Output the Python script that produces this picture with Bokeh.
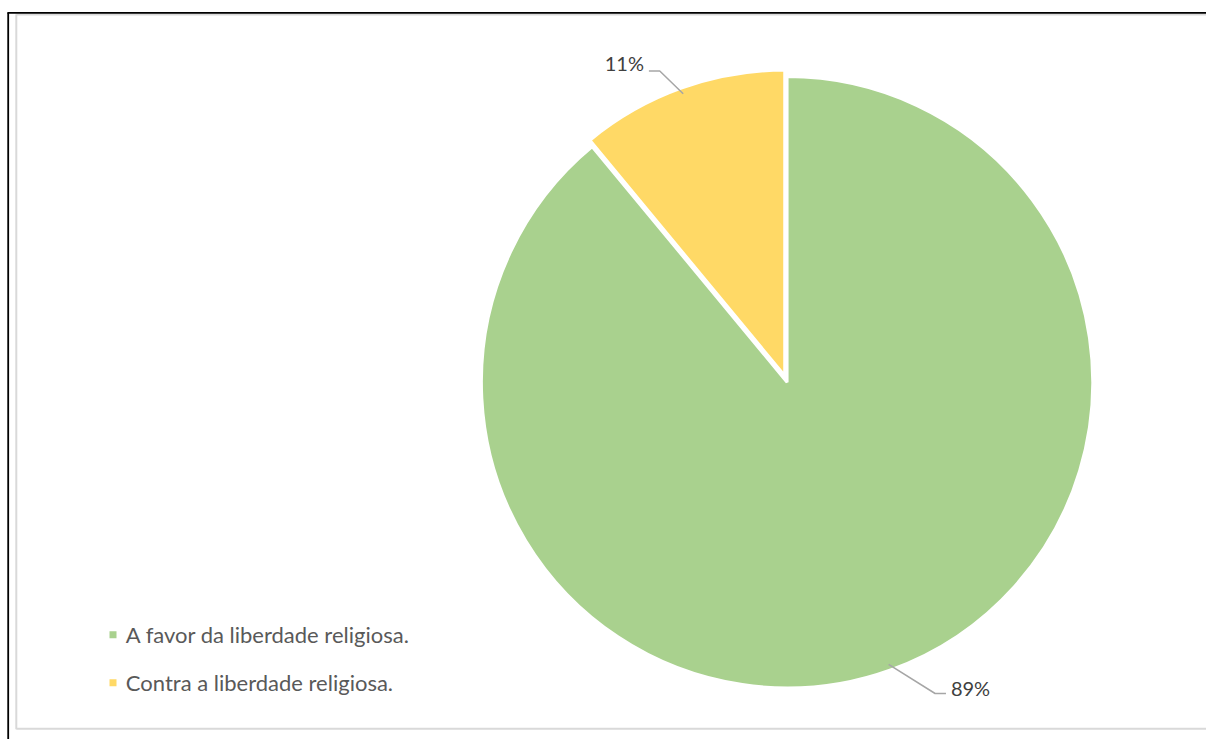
import math
from bokeh.plotting import figure
from bokeh.models import Range1d
from bokeh.core.properties import value
from bokeh.embed import file_html
from bokeh.resources import INLINE

# ---- data ----
categories = ["A favor da liberdade religiosa.", "Contra a liberdade religiosa."]
shares = [89, 11]
labels = ["89%", "11%"]
colors = ["#A9D18E", "#FFD966"]

# ---- layout (reference pixels mapped into the figure) ----
W, H = 1206, 739
KX, KY = W / 1222, H / 755
K = (KX + KY) / 2
def X(sx): return sx * KX
def Y(sy): return H - sy * KY

CX, CY, R = 797, 390, 311
EXPLODE = [0, 7]
FONT = "Lato"
TXT = "#595959"

p = figure(width=W, height=H, x_range=Range1d(0, W), y_range=Range1d(0, H),
           output_backend="svg", toolbar_location=None, min_border=0)
p.axis.visible = False
p.grid.visible = False
p.outline_line_color = None
p.background_fill_color = "white"
p.border_fill_color = "white"

# frames
p.line([X(16), X(16)], [Y(744.5), Y(14)], line_color="#D9D9D9", line_width=2)
p.line([X(16), X(1240)], [Y(14.3), Y(14.3)], line_color="#D9D9D9", line_width=2)
p.line([X(16), X(1240)], [Y(744), Y(744)], line_color="#D9D9D9", line_width=2)
p.line([X(7.8), X(7.8)], [Y(770), Y(12.5)], line_color="black", line_width=1.8)
p.line([X(7), X(1240)], [Y(12.6), Y(12.6)], line_color="black", line_width=1.8)

total = sum(shares)
start = math.pi / 2
label_pos = [((963, 702), "left"), ((652, 64), "right")]
elbows = [((947, 708), (958, 708)), ((668, 72), (657, 72))]
for i, v in enumerate(shares):
    span = 2 * math.pi * v / total
    end = start - span
    mid = (start + end) / 2
    dx = EXPLODE[i] * K * math.cos(mid)
    dy = EXPLODE[i] * K * math.sin(mid)
    cx, cy = X(CX) + dx, Y(CY) + dy
    p.wedge(x=[cx], y=[cy], radius=R * K, start_angle=[start], end_angle=[end],
            direction="clock", fill_color=colors[i], line_color="white", line_width=3)
    # leader line
    ax = cx + (R - 6) * K * math.cos(mid)
    ay = cy + (R - 6) * K * math.sin(mid)
    (e1x, e1y), (e2x, e2y) = elbows[i]
    p.line([ax, X(e1x), X(e2x)], [ay, Y(e1y), Y(e2y)], line_color="#A6A6A6", line_width=1.5)
    (lx, ly), al = label_pos[i]
    p.text(x=[X(lx)], y=[Y(ly)], text=[labels[i]], text_font=value(FONT),
           text_font_size="20px", text_color="#404040", text_align=al,
           text_baseline="middle")
    start = end

# legend
leg_y = [648, 697]
for i, c in enumerate(categories):
    p.scatter(x=[X(114)], y=[Y(leg_y[i])], marker="square", size=7,
              fill_color=colors[i], line_color=None)
    p.text(x=[X(127)], y=[Y(leg_y[i])], text=[c], text_font=value(FONT),
           text_font_size="22px", text_color=TXT, text_align="left",
           text_baseline="middle")

open("out.html", "w").write(file_html(p, INLINE))
